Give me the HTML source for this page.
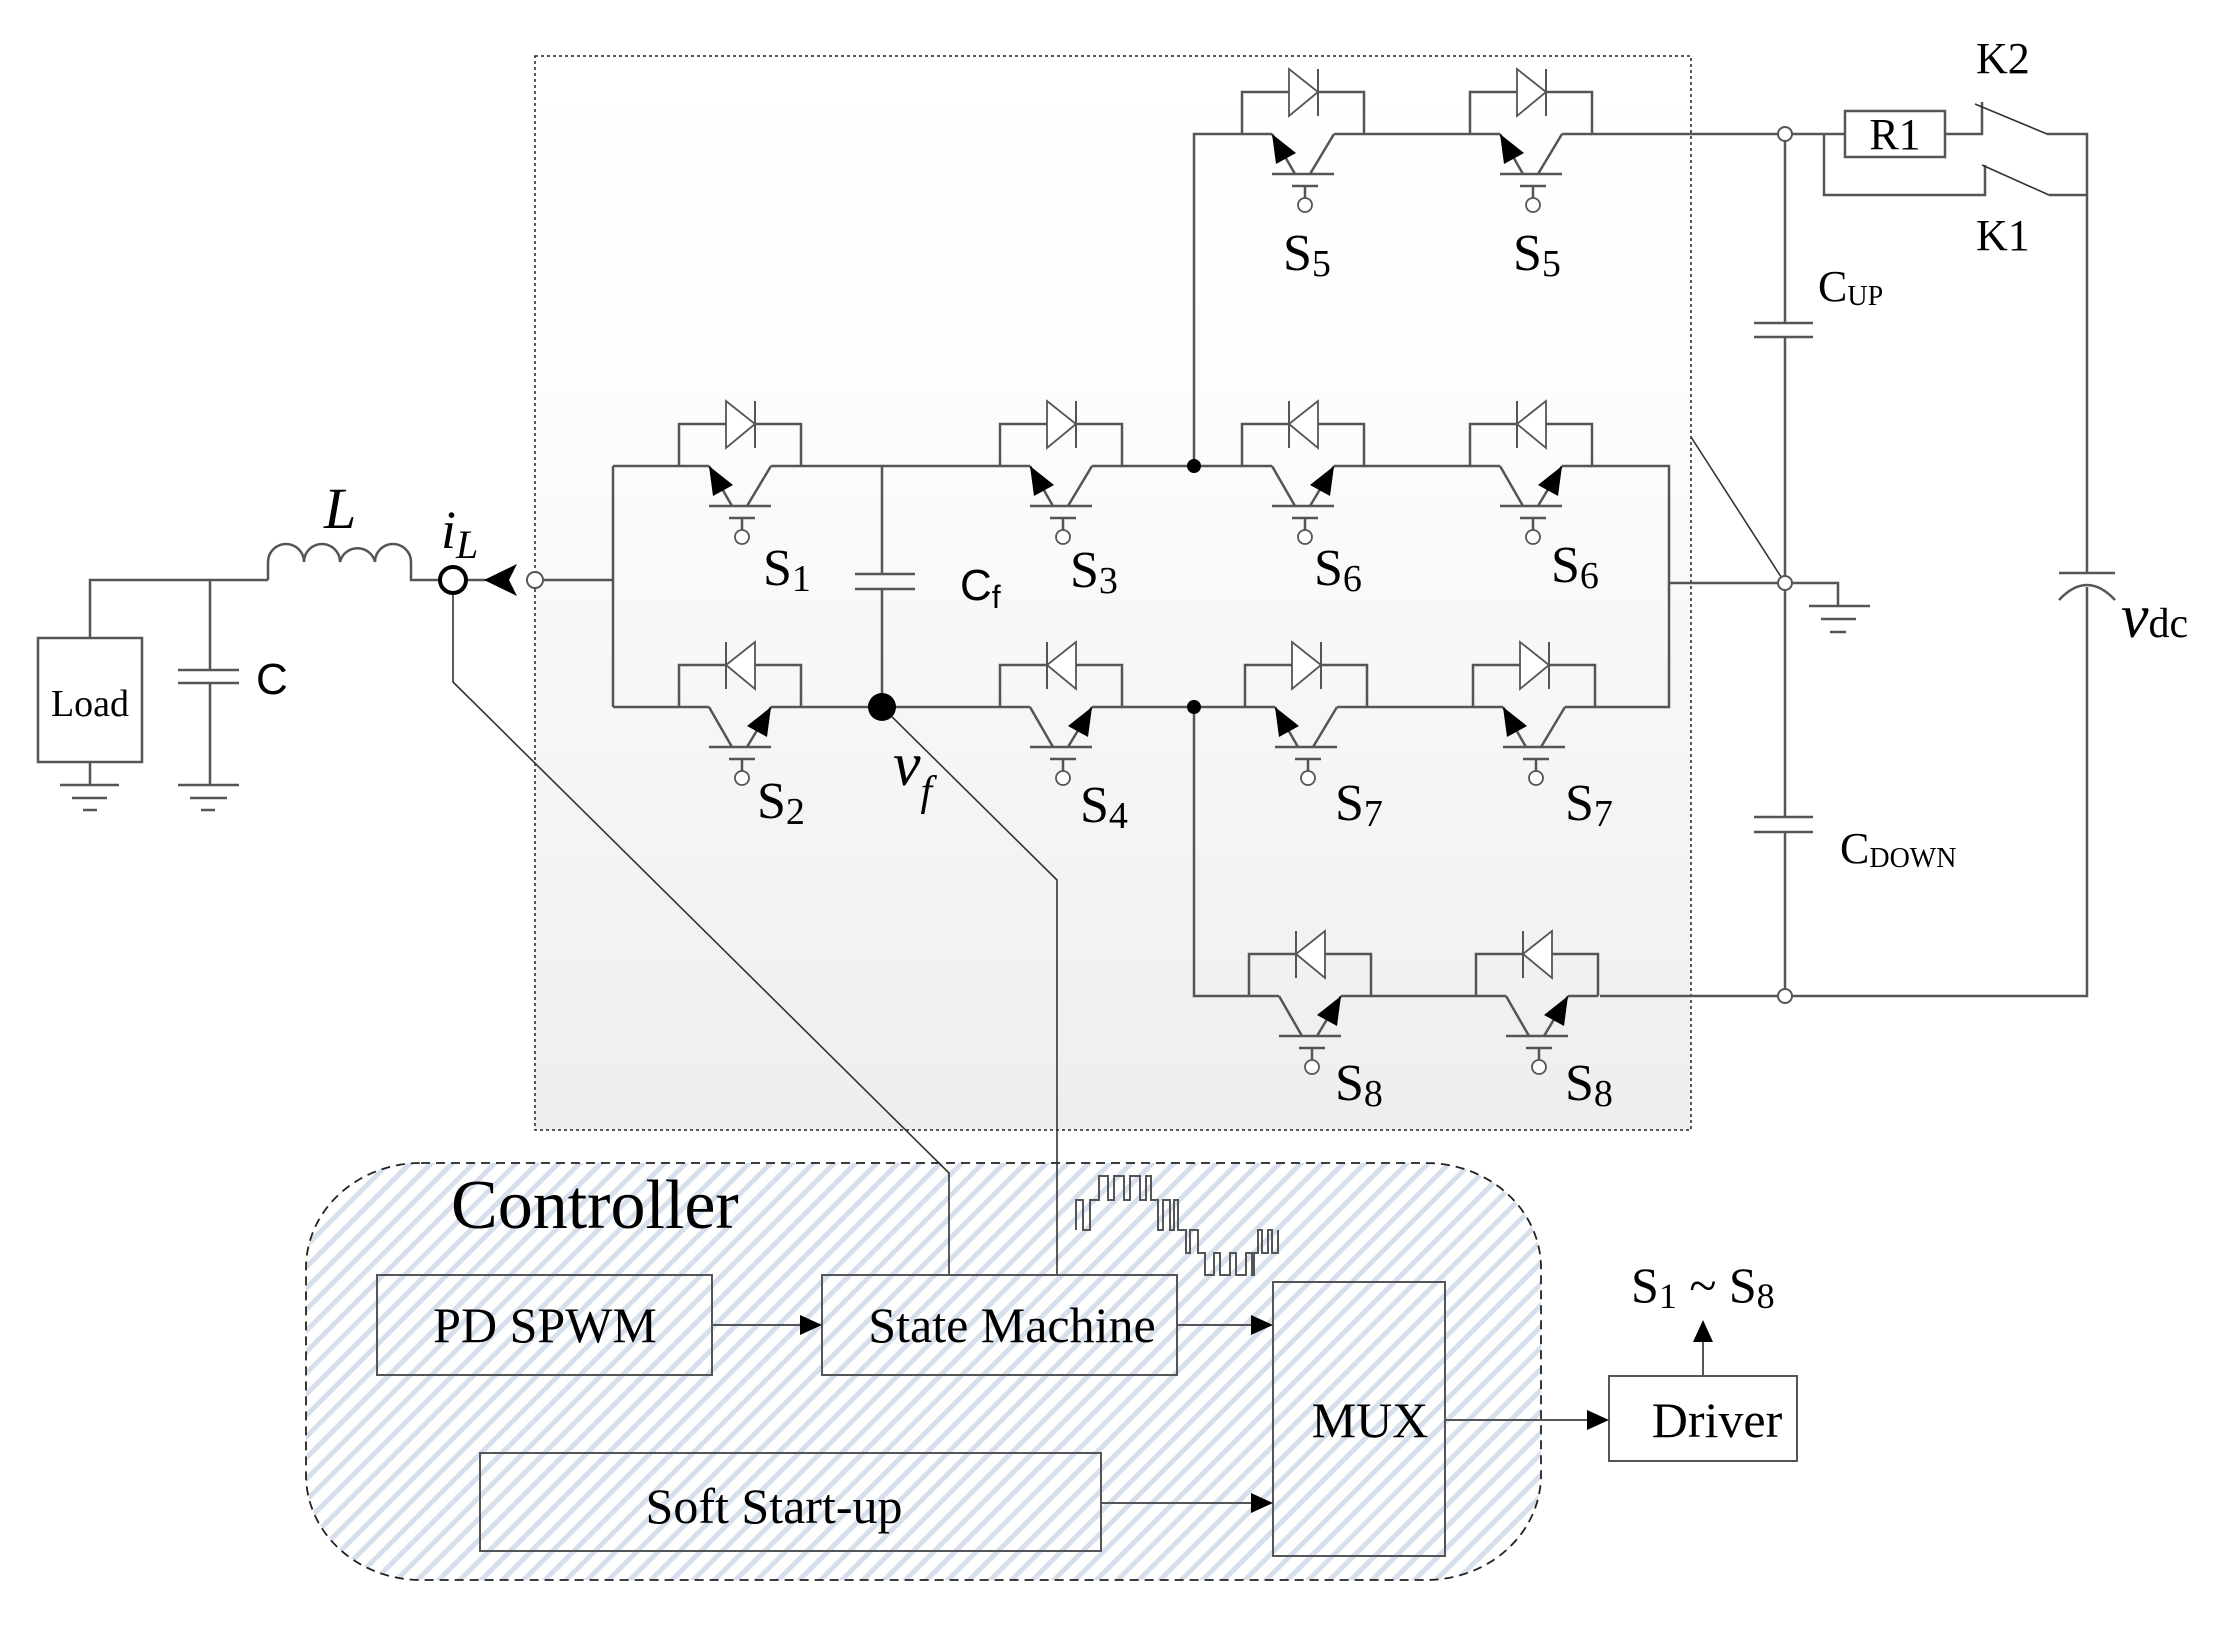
<!DOCTYPE html>
<html><head><meta charset="utf-8"><style>
html,body{margin:0;padding:0;background:#fff;}
svg{display:block;}
text{font-family:"Liberation Serif",serif;fill:#000;}
.s{font-family:"Liberation Sans",sans-serif;}
</style></head><body>
<svg width="2216" height="1628" viewBox="0 0 2216 1628" xmlns="http://www.w3.org/2000/svg">
<defs>
<linearGradient id="bg" x1="0" y1="0" x2="0" y2="1">
<stop offset="0" stop-color="#ffffff"/><stop offset="0.3" stop-color="#fdfdfd"/><stop offset="1" stop-color="#eeeeee"/>
</linearGradient>
<pattern id="hat" width="15" height="15" patternUnits="userSpaceOnUse" patternTransform="rotate(45)">
<rect width="15" height="15" fill="#fff"/><rect x="0" y="0" width="5" height="15" fill="#d6dfec"/>
</pattern>
<g id="swA" fill="none" stroke="#555" stroke-width="2.5">
<path d="M0,0 V-42 H122 V0"/>
<polygon points="47,-65 47,-18 76,-42" fill="#fff" stroke-width="1.8"/>
<path d="M76,-65 V-18" stroke-width="2"/>
<path d="M0,0 H30 M92,0 H122 M30,40 H92 M53,40 L30,0 M92,0 L68,40 M50,52 H76 M63,52 V64"/>
<polygon points="30,0 54,19 34,30" fill="#000" stroke="none"/>
<circle cx="63" cy="71" r="7" fill="#fff" stroke-width="1.8"/>
</g>
<g id="swB" fill="none" stroke="#555" stroke-width="2.5">
<path d="M0,0 V-42 H122 V0"/>
<polygon points="76,-65 76,-18 47,-42" fill="#fff" stroke-width="1.8"/>
<path d="M47,-65 V-18" stroke-width="2"/>
<path d="M0,0 H30 M92,0 H122 M30,40 H92 M30,0 L53,40 M68,40 L92,0 M50,52 H76 M63,52 V64"/>
<polygon points="92,0 88,30 68,19" fill="#000" stroke="none"/>
<circle cx="63" cy="71" r="7" fill="#fff" stroke-width="1.8"/>
</g>
</defs>

<rect x="535" y="56" width="1156" height="1074" fill="url(#bg)" stroke="#222" stroke-width="1.5" stroke-dasharray="3,3"/>

<rect x="306" y="1163" width="1235" height="417" rx="115" ry="105" fill="url(#hat)" stroke="#222" stroke-width="1.8" stroke-dasharray="9,6"/>

<g fill="none" stroke="#555" stroke-width="2.5">
<path d="M90,638 V580 H268"/>
<path d="M268,580 V562 A18,18 0 0 1 304,562 A18,18 0 0 1 340,562 A18,18 0 0 1 375,562 A18,18 0 0 1 411,562 V580 H439"/>
<path d="M210,580 V670 M178,670 H239 M178,683 H239 M210,683 V785"/>
<path d="M60,785 H119 M72,798 H107 M83,810 H97 M178,785 H239 M190,798 H227 M201,810 H215"/>
<path d="M90,762 V785"/>
<rect x="38" y="638" width="104" height="124" fill="#fff"/>
<path d="M467,580 H486 M543,580 H613 M613,466 V707 M613,466 H679 M613,707 H679"/>
<path d="M801,466 H1000 M801,707 H1000 M882,466 V574 M855,574 H915 M855,589 H915 M882,589 V707"/>
<path d="M1121,466 H1242 M1363,466 H1470 M1591,466 H1669 V707 H1594 M1121,707 H1245 M1367,707 H1473"/>
<path d="M1669,583 H1778 M1792,583 H1838 V606 M1809,606 H1870 M1821,619 H1856 M1830,632 H1846"/>
<path d="M1194,466 V134 H1242 M1363,134 H1470 M1591,134 H1778"/>
<path d="M1194,707 V996 H1249 M1371,996 H1476 M1600,996 H1778 M1792,996 H2087 V587 M2087,573 V134 H2047"/>
<path d="M2059,573 H2115 M2059,600 Q2087,570 2115,600"/>
<path d="M1785,141 V323 M1754,323 H1813 M1754,337 H1813 M1785,337 V576 M1785,590 V817 M1754,817 H1813 M1754,832 H1813 M1785,832 V989"/>
<path d="M1792,134 H1845 M1945,134 H1982 V102 M1824,134 V195 H1985 V165 M2049,195 H2087"/>
<rect x="1845" y="111" width="100" height="46" fill="#fff"/>
</g>
<g stroke="#333" stroke-width="1.6" fill="none">
<path d="M1975,104 L2047,134 M1982,165 L2049,195"/>
<path d="M1691,437 L1785,583"/>
<path d="M453,594 V682 L949,1173 V1275"/>
<path d="M882,707 L1057,880 V1275"/>
</g>
<polygon points="484,580 517,564 509,580 517,596" fill="#000"/>
<circle cx="453" cy="580" r="13" fill="#fff" stroke="#000" stroke-width="4"/>
<circle cx="535" cy="580" r="8" fill="#fff" stroke="#555" stroke-width="2"/>
<circle cx="882" cy="707" r="14" fill="#000"/>
<circle cx="1194" cy="466" r="7" fill="#000"/>
<circle cx="1194" cy="707" r="7" fill="#000"/>
<g fill="#fff" stroke="#555" stroke-width="2">
<circle cx="1785" cy="134" r="7"/><circle cx="1785" cy="583" r="7"/><circle cx="1785" cy="996" r="7"/>
</g>

<use href="#swA" x="679" y="466"/>
<use href="#swB" x="679" y="707"/>
<use href="#swA" x="1000" y="466"/>
<use href="#swB" x="1000" y="707"/>
<use href="#swA" x="1242" y="134"/>
<use href="#swA" x="1470" y="134"/>
<use href="#swB" x="1242" y="466"/>
<use href="#swB" x="1470" y="466"/>
<use href="#swA" x="1245" y="707"/>
<use href="#swA" x="1473" y="707"/>
<use href="#swB" x="1249" y="996"/>
<use href="#swB" x="1476" y="996"/>

<g fill="none" stroke="#555" stroke-width="2">
<rect x="377" y="1275" width="335" height="100"/>
<rect x="822" y="1275" width="355" height="100"/>
<rect x="480" y="1453" width="621" height="98"/>
<rect x="1273" y="1282" width="172" height="274"/>
<rect x="1609" y="1376" width="188" height="85" fill="#fff"/>
<path d="M712,1325 H802 M1177,1325 H1253 M1101,1503 H1253 M1445,1420 H1589 M1703,1376 V1340"/>
<path stroke-width="2" d="M1076,1230 V1200 H1083 V1230 H1090 V1200 H1099 V1176 H1108 V1200 H1114 V1176 H1124 V1200 H1130 V1176 H1140 V1200 H1146 V1176 H1151 V1200 H1158 V1230 H1163 V1200 H1170 V1230 H1174 V1200 H1178 V1230 H1186 V1253 H1190 V1230 H1198 V1253 H1205 V1275 H1214 V1253 H1220 V1275 H1230 V1253 H1236 V1275 H1246 V1253 H1252 V1275 H1254 V1253 H1258 V1230 H1262 V1253 H1268 V1230 H1272 V1253 H1278 V1230"/>
</g>
<g fill="#000">
<polygon points="822,1325 800,1315 800,1335"/>
<polygon points="1273,1325 1251,1315 1251,1335"/>
<polygon points="1273,1503 1251,1493 1251,1513"/>
<polygon points="1609,1420 1587,1410 1587,1430"/>
<polygon points="1703,1320 1693,1342 1713,1342"/>
</g>

<text x="90" y="716" font-size="38" text-anchor="middle">Load</text>
<text class="s" x="256" y="694" font-size="44">C</text>
<text x="324" y="528" font-size="58" font-style="italic">L</text>
<text x="441" y="548" font-size="54" font-style="italic">i<tspan font-size="40" dy="10">L</tspan></text>
<text class="s" x="960" y="600" font-size="44">C<tspan font-size="32" dy="8">f</tspan></text>
<text x="893" y="785" font-size="62" font-style="italic">v<tspan font-size="42" dy="20">f</tspan></text>

<g font-size="52">
<text x="763" y="585">S<tspan font-size="38" dy="6">1</tspan></text>
<text x="1070" y="587">S<tspan font-size="38" dy="6">3</tspan></text>
<text x="1314" y="585">S<tspan font-size="38" dy="6">6</tspan></text>
<text x="1551" y="582">S<tspan font-size="38" dy="6">6</tspan></text>
<text x="757" y="818">S<tspan font-size="38" dy="6">2</tspan></text>
<text x="1080" y="822">S<tspan font-size="38" dy="6">4</tspan></text>
<text x="1335" y="820">S<tspan font-size="38" dy="6">7</tspan></text>
<text x="1565" y="820">S<tspan font-size="38" dy="6">7</tspan></text>
<text x="1335" y="1100">S<tspan font-size="38" dy="6">8</tspan></text>
<text x="1565" y="1100">S<tspan font-size="38" dy="6">8</tspan></text>
<text x="1283" y="270">S<tspan font-size="38" dy="6">5</tspan></text>
<text x="1513" y="270">S<tspan font-size="38" dy="6">5</tspan></text>
</g>

<text x="1895" y="149" font-size="44" text-anchor="middle">R1</text>
<text x="1976" y="73" font-size="44">K2</text>
<text x="1976" y="250" font-size="44">K1</text>
<text x="1818" y="301" font-size="44">C<tspan font-size="28" dy="4">UP</tspan></text>
<text x="1840" y="863" font-size="44">C<tspan font-size="28" dy="4">DOWN</tspan></text>
<text x="2121" y="637" font-size="62" font-style="italic">v<tspan font-style="normal" font-size="42">dc</tspan></text>

<text x="451" y="1228" font-size="70">Controller</text>
<text x="545" y="1342" font-size="50" text-anchor="middle">PD SPWM</text>
<text x="1012" y="1342" font-size="50" text-anchor="middle">State Machine</text>
<text x="774" y="1523" font-size="50" text-anchor="middle">Soft Start-up</text>
<text x="1370" y="1437" font-size="50" text-anchor="middle">MUX</text>
<text x="1717" y="1437" font-size="50" text-anchor="middle">Driver</text>
<text x="1631" y="1302" font-size="50">S<tspan font-size="36" dy="6">1</tspan><tspan dy="-6"> ~ S</tspan><tspan font-size="36" dy="6">8</tspan></text>
</svg>
</body></html>
